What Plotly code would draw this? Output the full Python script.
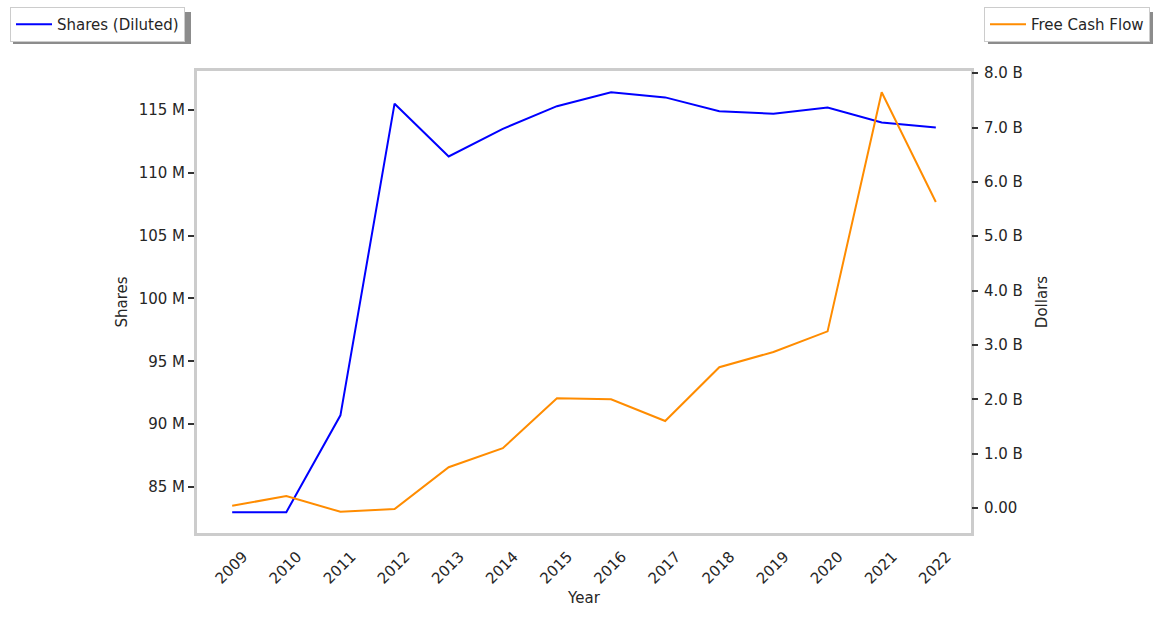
import plotly.graph_objects as go

years = [2009, 2010, 2011, 2012, 2013, 2014, 2015, 2016, 2017, 2018, 2019, 2020, 2021, 2022]
shares_m = [83.0, 83.0, 90.7, 115.5, 111.3, 113.5, 115.3, 116.4, 116.0, 114.9, 114.7, 115.2, 114.0, 113.6]
fcf_b = [0.04, 0.22, -0.07, -0.02, 0.75, 1.10, 2.02, 2.00, 1.60, 2.59, 2.87, 3.25, 7.65, 5.63]

share_ticks = [85, 90, 95, 100, 105, 110, 115]
share_labels = ["85 M", "90 M", "95 M", "100 M", "105 M", "110 M", "115 M"]
dollar_ticks = [0, 1, 2, 3, 4, 5, 6, 7, 8]
dollar_labels = ["0.00", "1.0 B", "2.0 B", "3.0 B", "4.0 B", "5.0 B", "6.0 B", "7.0 B", "8.0 B"]

font = dict(family="DejaVu Sans", size=15, color="#262626")
frame = "#cccccc"

# plot area in pixels
L, R, T, B = 197, 971, 71, 533
W, H = R - L, B - T


def px_x(p):
    return (p - L) / W


def px_y(p):
    return (B - p) / H


fig = go.Figure()
fig.add_trace(go.Scatter(x=years, y=shares_m, mode="lines", name="Shares (Diluted)",
                         line=dict(color="blue", width=2), legend="legend"))
fig.add_trace(go.Scatter(x=years, y=fcf_b, mode="lines", name="Free Cash Flow",
                         line=dict(color="darkorange", width=2), yaxis="y2", legend="legend2"))

# legend shadows (offset boxes behind the legends)
for x0, x1 in [(13, 191), (988, 1153)]:
    fig.add_shape(type="rect", xref="paper", yref="paper",
                  x0=px_x(x0), x1=px_x(x1), y0=px_y(44), y1=px_y(12),
                  fillcolor="#8c8c8c", line=dict(width=0), layer="below")

leg = dict(yanchor="top", y=px_y(7), bgcolor="white", bordercolor="#cccccc", borderwidth=1,
           font=font, itemwidth=36)

fig.update_layout(
    width=1159, height=618,
    margin=dict(l=L, r=1159 - R, t=T, b=618 - B, autoexpand=False),
    paper_bgcolor="white", plot_bgcolor="white",
    font=font,
    showlegend=True,
    legend=dict(leg, x=px_x(10), xanchor="left"),
    legend2=dict(leg, x=px_x(1150), xanchor="right"),
    xaxis=dict(
        range=[2008.35, 2022.65], tickvals=years, ticktext=[str(y) for y in years],
        tickangle=-45, ticks="", showgrid=False, zeroline=False,
        ticklabelshift=11, ticklabelstandoff=6,
        showline=True, linecolor=frame, linewidth=3, mirror=True,
        title=dict(text="Year", font=font, standoff=6),
    ),
    yaxis=dict(
        range=[81.34, 118.1], tickvals=share_ticks, ticktext=share_labels,
        ticks="outside", ticklen=6, tickwidth=1.5, tickcolor="#333333",
        showgrid=False, zeroline=False,
        showline=True, linecolor=frame, linewidth=3, mirror=True,
        title=dict(text="Shares", font=font, standoff=8),
    ),
    yaxis2=dict(
        range=[-0.46, 8.04], tickvals=dollar_ticks, ticktext=dollar_labels,
        overlaying="y", side="right",
        ticks="outside", ticklen=6, tickwidth=1.5, tickcolor="#333333",
        ticklabelstandoff=3,
        showgrid=False, zeroline=False, showline=False,
        title=dict(text="Dollars", font=font, standoff=14),
    ),
)

fig.write_html("out.html", config={"displayModeBar": False},
               post_script="document.body.style.margin='0';")
